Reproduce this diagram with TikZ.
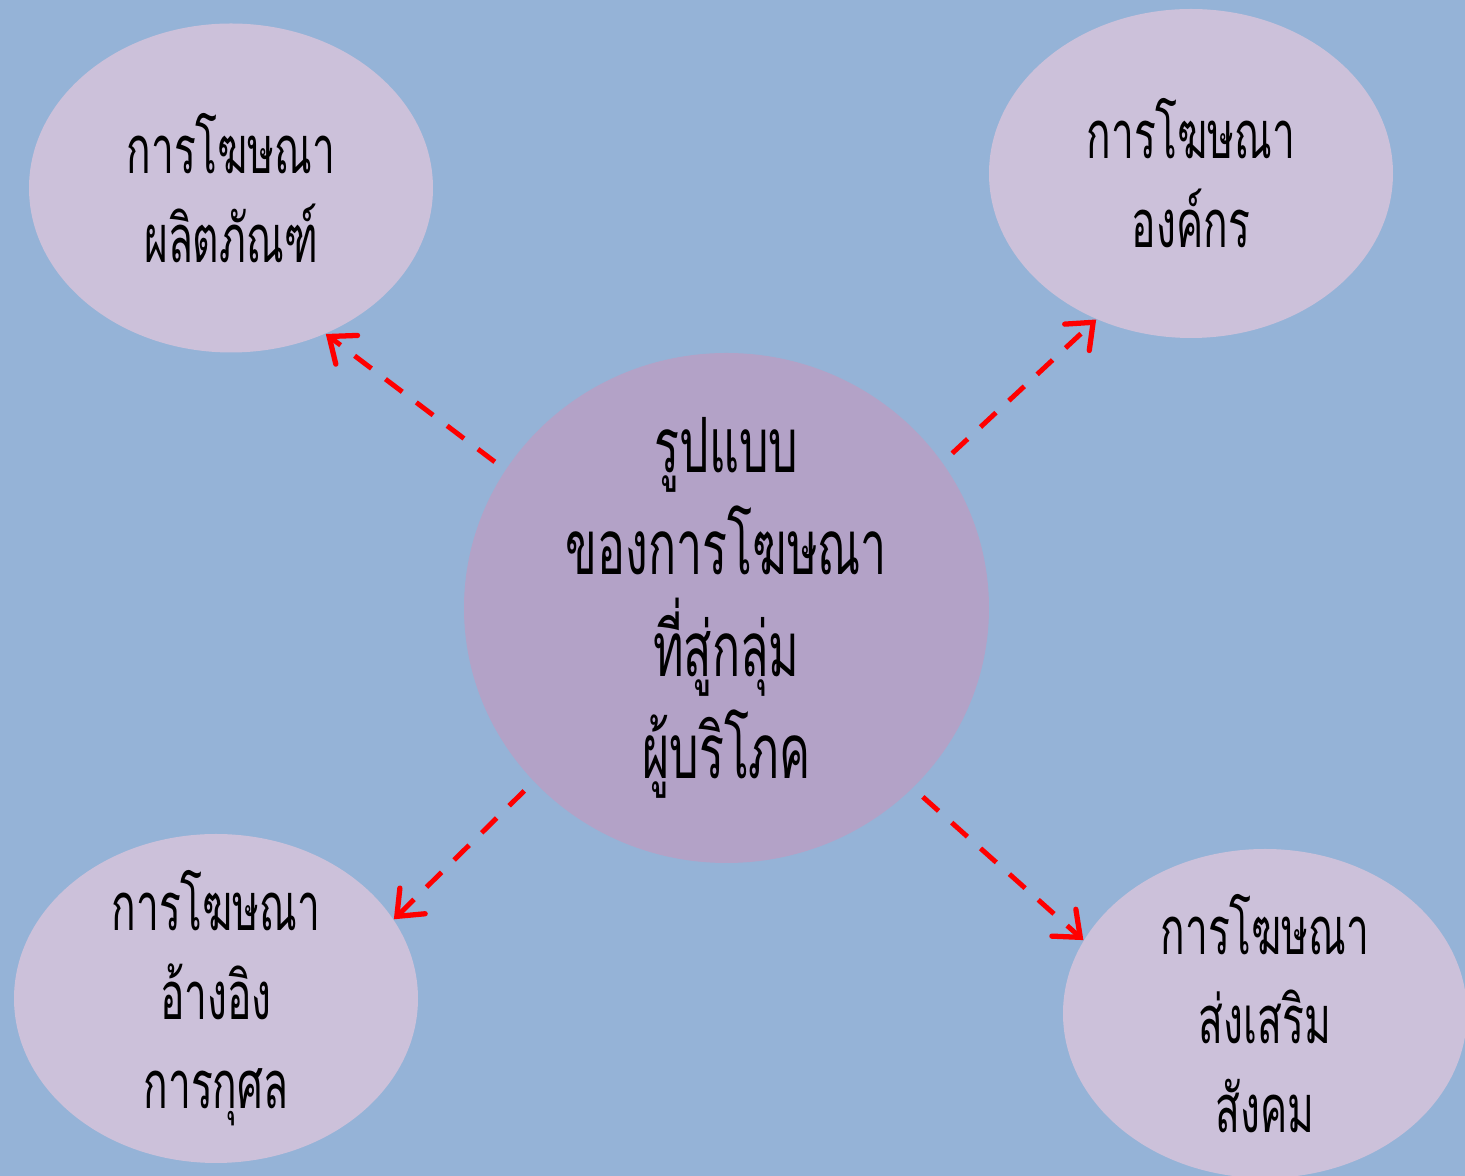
\documentclass[tikz,border=0pt]{standalone}
\usepackage{fontspec}
\newfontfamily\thaifont[Script=Thai,FakeStretch=0.61]{Loma}
\usetikzlibrary{shapes.geometric,arrows.meta}
\definecolor{fond}{HTML}{95B3D7}
\definecolor{bulle}{HTML}{CCC1DA}
\definecolor{coeur}{HTML}{B3A2C7}
\begin{document}
\begin{tikzpicture}[
    bulle/.style={ellipse,fill=bulle,minimum width=4.04cm,minimum height=3.29cm,inner xsep=0pt,
      inner ysep=-0.6cm,align=center,font=\thaifont\fontsize{19}{25.3}\selectfont},
    coeur/.style={ellipse,fill=coeur,minimum width=5.25cm,minimum height=5.1cm,inner xsep=0pt,
      inner ysep=-0.6cm,align=center,font=\thaifont\fontsize{21.7}{29}\selectfont},
    fleche/.style={red,line width=1.4pt,dash pattern=on 6pt off 5pt,
      -{Straight Barb[length=2.2mm,width=3.6mm,line width=1.5pt,line cap=round]},shorten <=0.13cm}]
    % ------ fond ----------------
    \fill [fond] (0,0) rectangle (14.65,-11.76);
    \useasboundingbox (0,0) rectangle (14.65,-11.76);
    % ------ bulles ----------------
    \node [coeur] (c) at (7.265,-6.08) {รูปแบบ\\ของการโฆษณา\\ที่สู่กลุ่ม\\ผู้บริโภค};
    \node [bulle] (hg) at (2.31,-1.88) {การโฆษณา\\ผลิตภัณฑ์};
    \node [bulle] (hd) at (11.91,-1.735) {การโฆษณา\\องค์กร};
    \node [bulle] (bg) at (2.16,-9.985) {การโฆษณา\\อ้างอิง\\การกุศล};
    \node [bulle] (bd) at (12.65,-10.135) {การโฆษณา\\ส่งเสริม\\สังคม};
    % ------ fleches ----------------
    \draw [fleche] (c.148) -- (hg.-57);
    \draw [fleche] (c.34) -- (hd.-123);
    \draw [fleche] (c.222) -- (bg.24);
    \draw [fleche] (c.-44) -- (bd.158);
\end{tikzpicture}
\end{document}
